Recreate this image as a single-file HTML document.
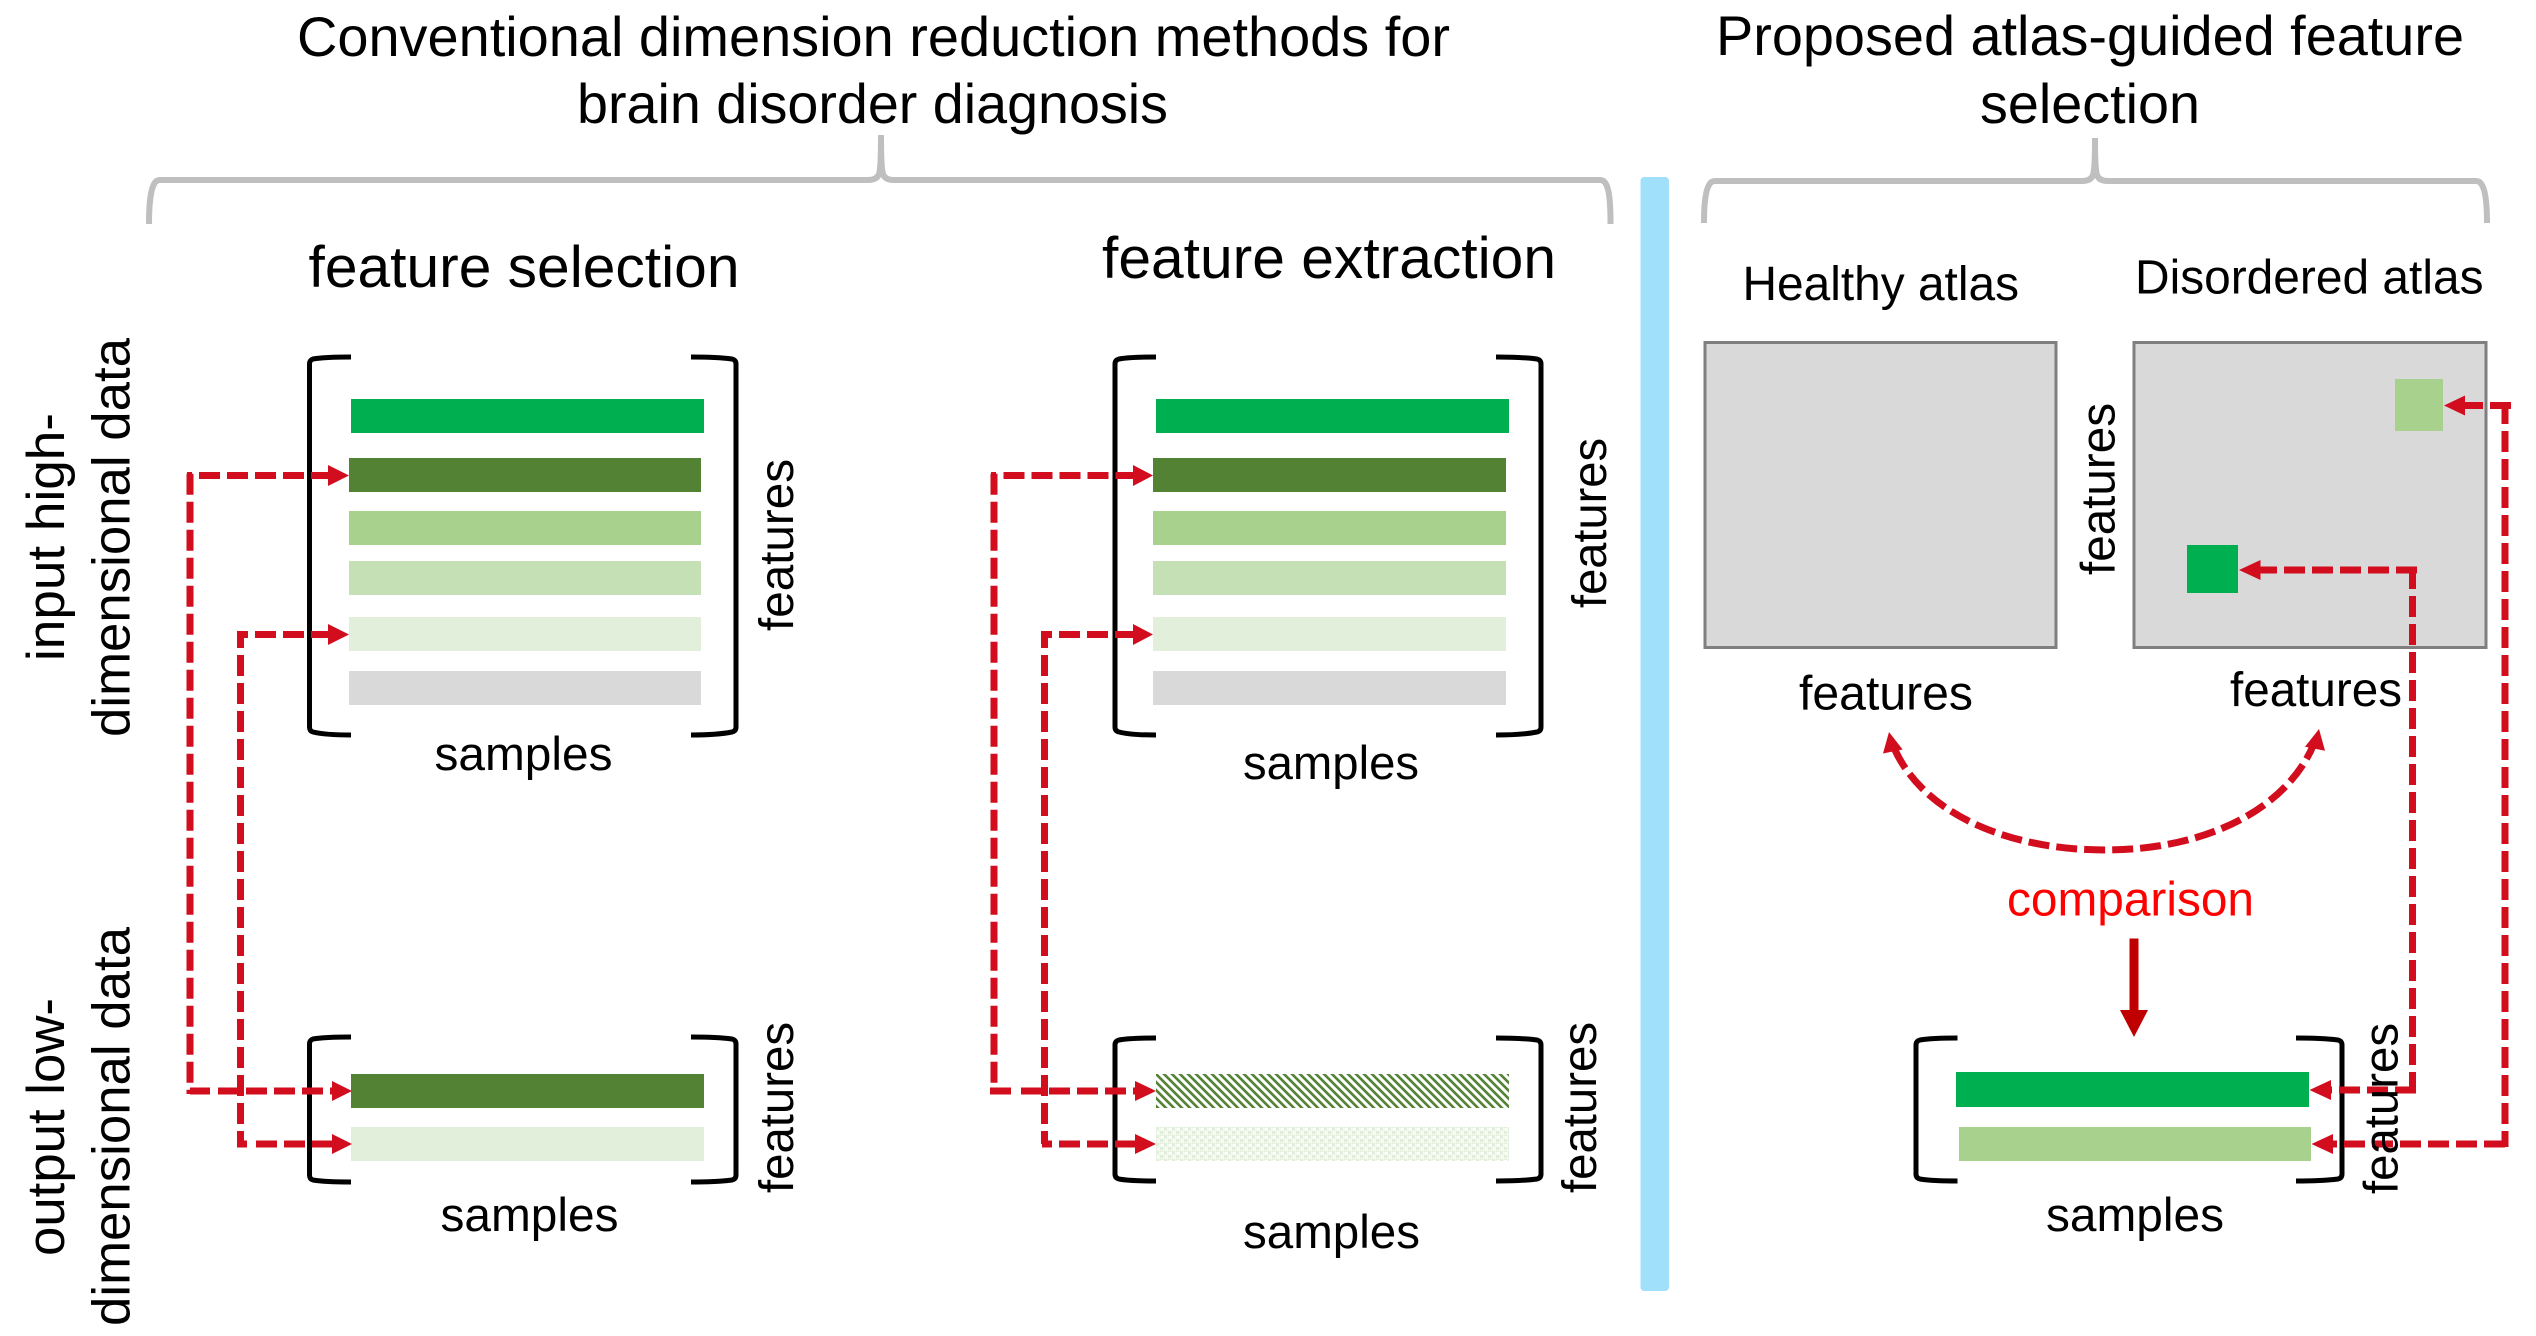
<!DOCTYPE html>
<html>
<head>
<meta charset="utf-8">
<style>
html,body{margin:0;padding:0;background:#fff;}
svg{display:block;}
text{font-family:"Liberation Sans",Arial,sans-serif;fill:#000;}
.b{fill:none;stroke:#000;stroke-width:5;}
.br{fill:none;stroke:#bfbfbf;stroke-width:6;}
.d{fill:none;stroke:#d20d1e;stroke-width:7;stroke-dasharray:21 7;}
.s{fill:none;stroke:#d20d1e;stroke-width:7;}
.h{fill:#d20d1e;}
</style>
</head>
<body>
<svg width="2536" height="1336" viewBox="0 0 2536 1336" xmlns="http://www.w3.org/2000/svg">
<defs>
<pattern id="hatch" patternUnits="userSpaceOnUse" width="8" height="8" x="1156" y="1074">
<path d="M-1 -1L9 9M6 -2L10 2M-2 6L2 10" stroke="#548235" stroke-width="2.6" fill="none"/>
</pattern>
<pattern id="dots" patternUnits="userSpaceOnUse" width="8" height="8" x="1156" y="1127">
<rect width="8" height="8" fill="#f3f8ef"/>
<rect x="0" y="0" width="3" height="3" fill="#e2efda"/>
<rect x="4" y="4" width="3" height="3" fill="#e2efda"/>
<rect x="4" y="0" width="3" height="1" fill="#e2efda"/>
<rect x="0" y="4" width="1" height="3" fill="#e2efda"/>
<rect x="5" y="1" width="2" height="2" fill="#fff"/>
<rect x="1" y="5" width="2" height="2" fill="#fff"/>
</pattern>
</defs>

<!-- divider -->
<rect x="1640.5" y="177" width="28.5" height="1114" rx="4" fill="#a1e0fb"/>

<!-- braces -->
<path class="br" d="M149 224C149 200 151 190 154 184Q156 180 160 180L868 180Q877 180 879 174C881 168 881 150 881 135C881 150 881 168 883 174Q885 180 894 180L1600 180Q1604 180 1606 184C1609 190 1610.5 200 1610.5 224"/>
<path class="br" d="M1704 223C1704 200 1706 190 1709 185Q1711 181 1715 181L2082 181Q2091 181 2093 175C2095 169 2095 152 2095 138C2095 152 2095 169 2097 175Q2099 181 2108 181L2476 181Q2480 181 2482 185C2485 190 2487 200 2487 223"/>

<!-- panel 1 top bars -->
<rect x="351" y="399" width="353" height="34" fill="#00b050"/>
<rect x="349" y="458" width="352" height="34" fill="#548235"/>
<rect x="349" y="511" width="352" height="34" fill="#a9d18e"/>
<rect x="349" y="561" width="352" height="34" fill="#c5e0b4"/>
<rect x="349" y="617" width="352" height="34" fill="#e2efda"/>
<rect x="349" y="671" width="352" height="34" fill="#d9d9d9"/>
<path class="b" d="M351 357Q325 357 313 359Q309.5 360 309.5 364L309.5 727Q309.5 731 313 732Q325 735 351 735"/>
<path class="b" d="M691 357Q717 357 732 359Q736 360 736 364L736 727Q736 731 732 732Q717 735 691 735"/>

<!-- panel 1 bottom -->
<rect x="351" y="1074" width="353" height="34" fill="#548235"/>
<rect x="351" y="1127" width="353" height="34" fill="#e2efda"/>
<path class="b" d="M351 1037Q325 1037 313 1039Q309.5 1040 309.5 1044L309.5 1175Q309.5 1179 313 1180Q325 1182 351 1182"/>
<path class="b" d="M691 1037Q717 1037 732 1039Q736 1040 736 1044L736 1175Q736 1179 732 1180Q717 1182 691 1182"/>

<!-- panel 2 top bars -->
<rect x="1156" y="399" width="353" height="34" fill="#00b050"/>
<rect x="1153" y="458" width="353" height="34" fill="#548235"/>
<rect x="1153" y="511" width="353" height="34" fill="#a9d18e"/>
<rect x="1153" y="561" width="353" height="34" fill="#c5e0b4"/>
<rect x="1153" y="617" width="353" height="34" fill="#e2efda"/>
<rect x="1153" y="671" width="353" height="34" fill="#d9d9d9"/>
<path class="b" d="M1156 357Q1130 357 1119 359Q1115 360 1115 364L1115 727Q1115 731 1119 732Q1130 735 1156 735"/>
<path class="b" d="M1496 357Q1522 357 1537 359Q1541 360 1541 364L1541 727Q1541 731 1537 732Q1522 735 1496 735"/>

<!-- panel 2 bottom -->
<rect x="1156" y="1074" width="353" height="34" fill="url(#hatch)"/>
<rect x="1156" y="1127" width="353" height="34" fill="url(#dots)"/>
<path class="b" d="M1156 1038Q1130 1038 1119 1040Q1115 1041 1115 1045L1115 1174Q1115 1178 1119 1179Q1130 1181 1156 1181"/>
<path class="b" d="M1496 1038Q1522 1038 1537 1040Q1541 1041 1541 1045L1541 1174Q1541 1178 1537 1179Q1522 1181 1496 1181"/>

<!-- atlases -->
<rect x="1705" y="342.5" width="351" height="305" fill="#d9d9d9" stroke="#7f7f7f" stroke-width="3"/>
<rect x="2134" y="342.5" width="352" height="305" fill="#d9d9d9" stroke="#7f7f7f" stroke-width="3"/>
<rect x="2395" y="379" width="48" height="52" fill="#a9d18e"/>
<rect x="2187" y="545" width="51" height="48" fill="#00b050"/>

<!-- panel 3 bottom -->
<rect x="1956" y="1072" width="353" height="35" fill="#00b050"/>
<rect x="1959" y="1127" width="352" height="34" fill="#a9d18e"/>
<path class="b" d="M1957.5 1038Q1932 1038 1920 1040Q1916 1041 1916 1045L1916 1174Q1916 1178 1920 1179Q1932 1181 1957.5 1181"/>
<path class="b" d="M2296 1038Q2322 1038 2338 1040Q2342 1041 2342 1045L2342 1174Q2342 1178 2338 1179Q2322 1181 2296 1181"/>

<!-- red connectors panel 1 -->
<path class="s" d="M187 475.5H192"/>
<path class="d" d="M199 475.5H330"/>
<path class="d" d="M190 473.7V1094"/>
<path class="s" d="M237 634.5H248"/>
<path class="d" d="M255 634.5H330"/>
<path class="d" d="M240.5 631V1144" style="stroke-dashoffset:4"/>
<path class="d" d="M190 1091H210"/>
<path class="d" d="M218 1091H335"/>
<path class="s" d="M237 1144H247"/>
<path class="d" d="M256 1144H335"/>
<polygon class="h" points="349,475.5 328,465 328,486"/>
<polygon class="h" points="349,634.5 328,624 328,645"/>
<polygon class="h" points="352,1091 332,1081 332,1101"/>
<polygon class="h" points="352,1144 332,1134 332,1154"/>

<!-- red connectors panel 2 -->
<path class="s" d="M991 475.5H996"/>
<path class="d" d="M1003.5 475.5H1135"/>
<path class="d" d="M994 473.7V1094"/>
<path class="s" d="M1041 634.5H1052"/>
<path class="d" d="M1059 634.5H1135"/>
<path class="d" d="M1044.5 631V1144" style="stroke-dashoffset:4"/>
<path class="d" d="M990 1091H1014"/>
<path class="d" d="M1021 1091H1138"/>
<path class="s" d="M1042 1144H1052"/>
<path class="d" d="M1059 1144H1138"/>
<polygon class="h" points="1153,475.5 1133,465 1133,486"/>
<polygon class="h" points="1153,634.5 1133,624 1133,645"/>
<polygon class="h" points="1156,1091 1135,1081 1135,1101"/>
<polygon class="h" points="1156,1144 1135,1134 1135,1154"/>

<!-- red connectors panel 3 -->
<path class="d" d="M2511 405.5H2463"/>
<path class="d" d="M2505 403V1147"/>
<path class="d" d="M2505 1144H2331"/>
<path class="d" d="M2417 570H2258"/>
<path class="d" d="M2412.5 568V1093"/>
<path class="d" d="M2416 1090H2329"/>
<polygon class="h" points="2444,405.5 2465,395.5 2465,415.5"/>
<polygon class="h" points="2239,570 2260.5,560 2260.5,580"/>
<polygon class="h" points="2309.5,1090 2331,1080 2331,1100"/>
<polygon class="h" points="2311.5,1144 2333,1134 2333,1154"/>

<!-- comparison curve -->
<path class="d" d="M1895 750C1925 815 2010 850 2105 850C2205 850 2285 810 2313 746"/>
<polygon class="h" points="1889,732 1883,753.5 1902.6,749.5"/>
<polygon class="h" points="2319,729 2305,746.7 2325,750.7"/>

<!-- down arrow -->
<rect x="2129.5" y="938.5" width="9" height="72" fill="#c00000"/>
<polygon points="2134,1037 2120,1010 2148,1010" fill="#c00000"/>

<!-- titles -->
<text x="297" y="56" font-size="56" textLength="1153" lengthAdjust="spacingAndGlyphs">Conventional dimension reduction methods for</text>
<text x="577" y="123" font-size="56" textLength="591" lengthAdjust="spacingAndGlyphs">brain disorder diagnosis</text>
<text x="1716" y="55" font-size="56" textLength="748" lengthAdjust="spacingAndGlyphs">Proposed atlas-guided feature</text>
<text x="1980" y="123" font-size="56" textLength="220" lengthAdjust="spacingAndGlyphs">selection</text>
<text x="308.5" y="287" font-size="58" textLength="431" lengthAdjust="spacingAndGlyphs">feature selection</text>
<text x="1102" y="278" font-size="58" textLength="454" lengthAdjust="spacingAndGlyphs">feature extraction</text>

<!-- side labels -->
<text transform="translate(64,661) rotate(-90)" font-size="53" textLength="248" lengthAdjust="spacingAndGlyphs">input high-</text>
<text transform="translate(129.5,737) rotate(-90)" font-size="53" textLength="399" lengthAdjust="spacingAndGlyphs">dimensional data</text>
<text transform="translate(64,1256) rotate(-90)" font-size="53" textLength="258" lengthAdjust="spacingAndGlyphs">output low-</text>
<text transform="translate(129.5,1326) rotate(-90)" font-size="53" textLength="399" lengthAdjust="spacingAndGlyphs">dimensional data</text>

<!-- samples -->
<text x="434.5" y="770" font-size="47" textLength="178" lengthAdjust="spacingAndGlyphs">samples</text>
<text x="440.5" y="1231" font-size="47" textLength="178" lengthAdjust="spacingAndGlyphs">samples</text>
<text x="1243" y="779" font-size="47" textLength="176" lengthAdjust="spacingAndGlyphs">samples</text>
<text x="1243" y="1248" font-size="47" textLength="177" lengthAdjust="spacingAndGlyphs">samples</text>
<text x="2046" y="1231" font-size="47" textLength="178" lengthAdjust="spacingAndGlyphs">samples</text>

<!-- features rotated -->
<text transform="translate(793,631) rotate(-90)" font-size="48" textLength="172" lengthAdjust="spacingAndGlyphs">features</text>
<text transform="translate(793,1193) rotate(-90)" font-size="48" textLength="171" lengthAdjust="spacingAndGlyphs">features</text>
<text transform="translate(1606,608) rotate(-90)" font-size="48" textLength="170" lengthAdjust="spacingAndGlyphs">features</text>
<text transform="translate(1596,1193) rotate(-90)" font-size="48" textLength="171" lengthAdjust="spacingAndGlyphs">features</text>
<text transform="translate(2114.5,575) rotate(-90)" font-size="48" textLength="172" lengthAdjust="spacingAndGlyphs">features</text>
<text transform="translate(2397.5,1194) rotate(-90)" font-size="48" textLength="171" lengthAdjust="spacingAndGlyphs">features</text>

<!-- atlas labels -->
<text x="1742.5" y="300" font-size="48" textLength="276.5" lengthAdjust="spacingAndGlyphs">Healthy atlas</text>
<text x="2135" y="293.5" font-size="48" textLength="348.5" lengthAdjust="spacingAndGlyphs">Disordered atlas</text>
<text x="1799" y="709.5" font-size="48" textLength="174" lengthAdjust="spacingAndGlyphs">features</text>
<text x="2230" y="706" font-size="48" textLength="172" lengthAdjust="spacingAndGlyphs">features</text>
<text x="2007" y="915.5" font-size="48" textLength="247" lengthAdjust="spacingAndGlyphs" style="fill:#ff0000">comparison</text>
</svg>
</body>
</html>
